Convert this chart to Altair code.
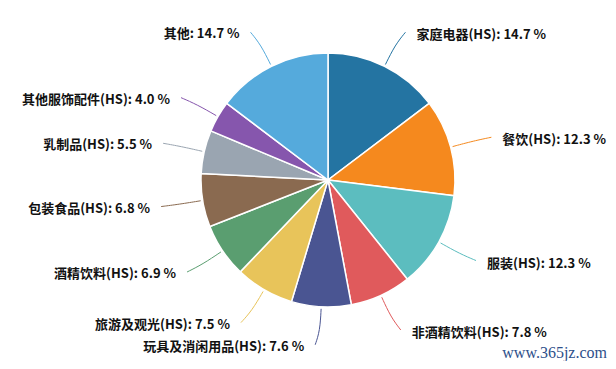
import altair as alt
import pandas as pd

names = ["家庭电器(HS)", "餐饮(HS)", "服装(HS)", "非酒精饮料(HS)", "玩具及消闲用品(HS)",
         "旅游及观光(HS)", "酒精饮料(HS)", "包装食品(HS)", "乳制品(HS)", "其他服饰配件(HS)", "其他"]
values = [14.7, 12.3, 12.3, 7.8, 7.6, 7.5, 6.9, 6.8, 5.5, 4.0, 14.7]
colors = ["#2474a2", "#f5891e", "#5cbdbf", "#e05a5c", "#4a5592", "#e8c45a",
          "#5a9e70", "#8a6a50", "#9aa5b1", "#8656ad", "#55aadc"]
watermark = ["www.365jz.com"]

df = pd.DataFrame({"name": names, "value": values, "idx": list(range(len(names)))})

CX, CY, R = 320, 172, 127
LR = 165

color_scale = alt.Scale(domain=names, range=colors)

base = alt.Chart(df)

pie = base.mark_arc(outerRadius=R, stroke="white", strokeWidth=1.5).encode(
    theta=alt.Theta("value:Q", stack=True),
    color=alt.Color("name:N", scale=color_scale, legend=None),
    order=alt.Order("idx:Q"),
    x=alt.value(CX),
    y=alt.value(CY),
)

geo = base.transform_joinaggregate(total="sum(value)").transform_window(
    cum="sum(value)", sort=[alt.SortField("idx")], frame=[None, 0]
).transform_calculate(
    mid="(datum.cum - datum.value/2) / datum.total * 2 * PI",
).transform_calculate(
    s="sin(datum.mid)", c="cos(datum.mid)", side="sin(datum.mid) >= 0 ? 1 : -1"
)

lines = geo.transform_calculate(
    p0="0", p1="1", p2="2"
).transform_fold(["p0", "p1", "p2"], as_=["pt", "k"]).transform_calculate(
    rad=f"datum.k == 0 ? {R + 2} : (datum.k == 1 ? {LR - 14} : {LR})",
).transform_calculate(
    px=f"{CX} + datum.rad * datum.s + (datum.k == 2 ? datum.side * 4 : 0)",
    py=f"{CY} - datum.rad * datum.c",
).mark_line(interpolate="basis", strokeWidth=1).encode(
    x=alt.X("px:Q", scale=None, axis=None),
    y=alt.Y("py:Q", scale=None, axis=None),
    color=alt.Color("name:N", scale=color_scale, legend=None),
    detail="name:N",
    order=alt.Order("k:Q"),
)

labels = geo.transform_calculate(
    lx=f"{CX} + {LR} * datum.s",
    ly=f"{CY} - {LR} * datum.c",
    label="datum.name + ': ' + format(datum.value, '.1f') + ' %'",
)

font = "Noto Sans CJK SC"
right_labels = labels.transform_filter("datum.side > 0").mark_text(
    align="left", baseline="middle", dx=15, dy=3, font=font, fontSize=13,
    fontWeight="bold", color="#111111"
).encode(
    x=alt.X("lx:Q", scale=None, axis=None),
    y=alt.Y("ly:Q", scale=None, axis=None),
    text="label:N",
)
left_labels = labels.transform_filter("datum.side < 0").mark_text(
    align="right", baseline="middle", dx=-15, dy=2, font=font, fontSize=13,
    fontWeight="bold", color="#111111"
).encode(
    x=alt.X("lx:Q", scale=None, axis=None),
    y=alt.Y("ly:Q", scale=None, axis=None),
    text="label:N",
)

wm = alt.Chart(pd.DataFrame({"t": watermark})).mark_text(
    align="right", baseline="middle", font="Liberation Serif", fontSize=16,
    color="#2d4f8a"
).encode(text="t:N", x=alt.value(599), y=alt.value(345))

chart = alt.layer(pie, lines, right_labels, left_labels, wm).properties(
    width=600, height=353, padding=0, autosize=alt.AutoSizeParams(type="none")
).configure_view(stroke=None)

chart.save("out.html", embed_options={"renderer": "svg", "actions": False})
